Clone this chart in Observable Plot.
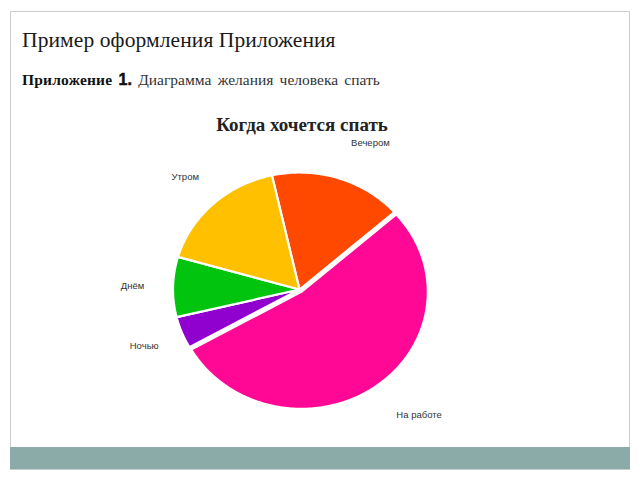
<!DOCTYPE html>
<html>
<head>
<meta charset="utf-8">
<script src="https://cdn.jsdelivr.net/npm/d3@7"></script>
<script src="https://cdn.jsdelivr.net/npm/@observablehq/plot@0.6"></script>
<style>
  html, body { margin: 0; padding: 0; background: #ffffff; }
  #page { position: relative; width: 640px; height: 480px; overflow: hidden; background: #fff; }
  #frame { position: absolute; left: 10px; top: 11px; width: 618px; height: 457px; border: 1px solid #c9cdcd; box-sizing: content-box; }
  #bar { position: absolute; left: 10px; top: 447px; width: 620px; height: 22px; background: #8aaba8; }
  #title { position: absolute; left: 22px; top: 28px; font-family: "Liberation Serif", "Times New Roman", serif; font-size: 21.5px; letter-spacing: 0.1px; color: #1a1a1a; white-space: nowrap; }
  #subtitle { position: absolute; left: 22px; top: 71px; font-family: "Liberation Serif", "Times New Roman", serif; font-size: 15.5px; color: #333; white-space: nowrap; word-spacing: 2.4px; }
  #subtitle b.w { font-weight: bold; font-size: 15.5px; color: #111; letter-spacing: 0.2px; word-spacing: 0; }
  #subtitle b.n { font-family: "Liberation Sans", Arial, sans-serif; font-weight: 900; font-size: 16px; color: #111; -webkit-text-stroke: 0.5px #111; }
  #charttitle { position: absolute; left: 202px; width: 200px; top: 114px; text-align: center; font-family: "Liberation Serif", "Times New Roman", serif; font-weight: bold; font-size: 19px; color: #222; white-space: nowrap; }
  #chart { position: absolute; left: 0; top: 0; }
</style>
</head>
<body>
<div id="page">
  <div id="frame"></div>
  <div id="bar"></div>
  <div id="title">Пример оформления Приложения</div>
  <div id="subtitle"><b class="w">Приложение</b> <b class="n">1.</b> Диаграмма желания человека спать</div>
  <div id="charttitle">Когда хочется спать</div>
  <div id="chart"></div>
</div>
<script>
// ---- data ----
const categories = ["Вечером", "На работе", "Ночью", "Днём", "Утром"];
const values = [17, 53.3, 4.4, 8.3, 17];
const colors = ["#ff4800", "#ff0895", "#9000cf", "#00c40e", "#ffc000"];
const explodedCategory = "На работе";

// ---- build pie polygons (angles clockwise from north) ----
const startAngle = -12.6 * Math.PI / 180;
const total = d3.sum(values);
const slices = [];
let a0 = startAngle;
categories.forEach((name, i) => {
  const a1 = a0 + values[i] / total * 2 * Math.PI;
  slices.push({name, a0, a1, mid: (a0 + a1) / 2});
  a0 = a1;
});

const pts = [];
for (const s of slices) {
  const off = s.name === explodedCategory ? 0.025 : 0;
  const cx = off * Math.sin(s.mid), cy = off * Math.cos(s.mid);
  pts.push({name: s.name, x: cx, y: cy});
  const n = Math.max(4, Math.ceil((s.a1 - s.a0) / (Math.PI / 180)));
  for (let k = 0; k <= n; k++) {
    const a = s.a0 + (s.a1 - s.a0) * k / n;
    pts.push({name: s.name, x: cx + Math.sin(a), y: cy + Math.cos(a)});
  }
  pts.push({name: s.name, x: cx, y: cy});
}

const labelR = 1.32;
const labels = slices.map(s => ({name: s.name, x: labelR * Math.sin(s.mid), y: labelR * Math.cos(s.mid), right: Math.sin(s.mid) > 0}));

const chart = Plot.plot({
  width: 640,
  height: 480,
  marginLeft: 172.5,
  marginRight: 214.5,
  marginTop: 172,
  marginBottom: 74,
  x: {domain: [-1, 1], axis: null},
  y: {domain: [-1, 1], axis: null},
  color: {domain: categories, range: colors},
  style: {background: "transparent", overflow: "visible"},
  marks: [
    Plot.line(pts, {x: "x", y: "y", z: "name", fill: "name", stroke: "white", strokeWidth: 2.2, strokeLinejoin: "round", curve: "linear"}),
    Plot.text(labels.filter(d => d.right), {x: "x", y: "y", text: "name", textAnchor: "start", fontSize: 9.5, fontFamily: "Liberation Sans, Arial, sans-serif", fill: "#333"}),
    Plot.text(labels.filter(d => !d.right), {x: "x", y: "y", text: "name", textAnchor: "middle", fontSize: 9.5, fontFamily: "Liberation Sans, Arial, sans-serif", fill: "#333"})
  ]
});
document.getElementById("chart").appendChild(chart);
</script>
</body>
</html>
